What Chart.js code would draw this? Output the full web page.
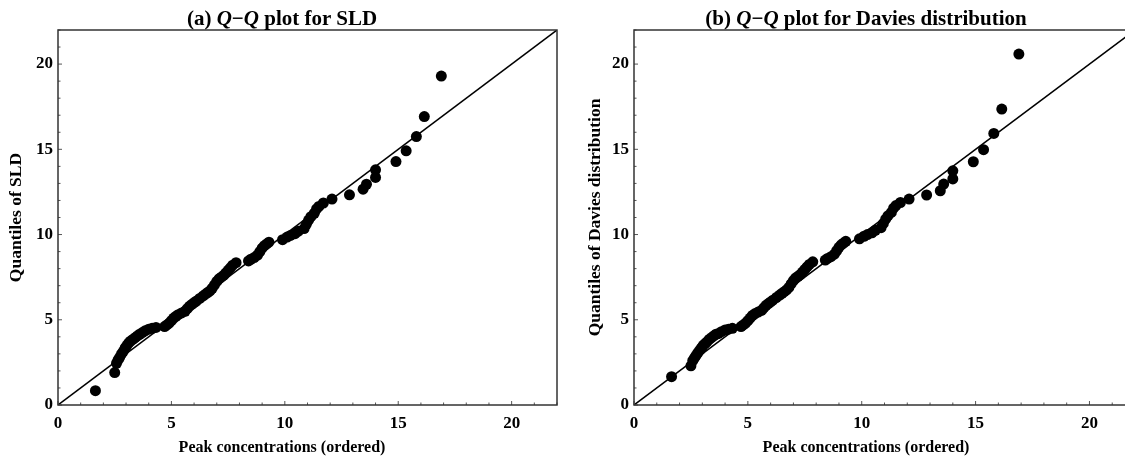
<!DOCTYPE html>
<html lang="en">
<head>
<meta charset="UTF-8">
<title>Q-Q plots</title>
<script src="https://cdn.jsdelivr.net/npm/chart.js@4"></script>
<style>
  html, body { margin: 0; padding: 0; background: #fff; }
  body { width: 1125px; height: 459px; overflow: hidden; position: relative;
         font-family: "Liberation Serif", "Times New Roman", serif; font-weight: bold; color: #000; }
  .panel { position: absolute; top: 0; height: 459px; }
  .title { position: absolute; font-size: 21px; line-height: 21px; white-space: nowrap; transform: translateX(-50%); }
  .xtitle { position: absolute; font-size: 16px; line-height: 16px; white-space: nowrap; transform: translateX(-50%); }
</style>
</head>
<body>
  <div class="panel" style="left:0;width:565px"><canvas id="qqSld" width="565" height="459"></canvas></div>
  <div class="panel" style="left:570px;width:575px"><canvas id="qqDavies" width="575" height="459"></canvas></div>

  <div class="title" style="left:282px;top:8px">(a) <i>Q</i>&minus;<i>Q</i> plot for SLD</div>
  <div class="title" style="left:866px;top:8px">(b) <i>Q</i>&minus;<i>Q</i> plot for Davies distribution</div>
  <div class="xtitle" style="left:282px;top:439px">Peak concentrations (ordered)</div>
  <div class="xtitle" style="left:866px;top:439px">Peak concentrations (ordered)</div>

<script>
// ordered peak concentrations (shared x values of both panels)
const peakConc = [
  1.65, 2.5, 2.58, 2.65, 2.72, 2.8, 2.88, 2.96, 3.04, 3.12,
  3.2, 3.3, 3.4, 3.5, 3.6, 3.72, 3.84, 4.0, 4.15, 4.32,
  4.7, 4.8, 4.9, 5.0, 5.1, 5.2, 5.3, 5.45, 5.6, 5.7,
  5.8, 5.9, 6.0, 6.1, 6.25, 6.4, 6.5, 6.6, 6.7, 6.8,
  6.9, 7.0, 7.1, 7.2, 7.3, 7.4, 7.5, 7.6, 7.7, 7.85,
  8.4, 8.5, 8.65, 8.8, 8.9, 9.0, 9.1, 9.2, 9.3, 9.9,
  10.1, 10.25, 10.45, 10.6, 10.85, 10.95, 11.05, 11.15, 11.3, 11.4,
  11.5, 11.7, 12.08, 12.85, 13.45, 13.6, 14.0, 14.0, 14.9, 15.35,
  15.8, 16.15, 16.9
];

// theoretical quantiles, SLD
const sldQuantiles = [
  0.84, 1.9, 2.45, 2.65, 2.8, 3.0, 3.15, 3.35, 3.5, 3.65,
  3.75, 3.85, 3.95, 4.05, 4.15, 4.25, 4.35, 4.45, 4.5, 4.55,
  4.6, 4.7, 4.8, 4.95, 5.1, 5.2, 5.3, 5.4, 5.5, 5.65,
  5.8, 5.9, 6.0, 6.1, 6.25, 6.4, 6.5, 6.6, 6.7, 6.85,
  7.05, 7.25, 7.4, 7.5, 7.6, 7.75, 7.9, 8.05, 8.2, 8.35,
  8.45, 8.55, 8.65, 8.8, 9.0, 9.2, 9.35, 9.45, 9.55, 9.7,
  9.85, 9.95, 10.05, 10.2, 10.35, 10.6, 10.85, 11.05, 11.25, 11.5,
  11.65, 11.85, 12.08, 12.33, 12.66, 12.95, 13.35, 13.8, 14.28, 14.91,
  15.75, 16.92, 19.3
];

// theoretical quantiles, Davies distribution
const daviesQuantiles = [
  1.66, 2.3, 2.6, 2.75, 2.9, 3.05, 3.2, 3.35, 3.5, 3.6,
  3.7, 3.85, 3.95, 4.05, 4.15, 4.2, 4.3, 4.4, 4.45, 4.5,
  4.6, 4.7, 4.8, 4.95, 5.1, 5.25, 5.35, 5.45, 5.55, 5.7,
  5.85, 5.95, 6.05, 6.15, 6.3, 6.45, 6.55, 6.65, 6.75, 6.9,
  7.1, 7.3, 7.45, 7.55, 7.65, 7.8, 7.95, 8.1, 8.25, 8.4,
  8.5, 8.6, 8.7, 8.85, 9.05, 9.25, 9.4, 9.5, 9.6, 9.75,
  9.9, 10.0, 10.1, 10.25, 10.4, 10.65, 10.9, 11.1, 11.3, 11.55,
  11.7, 11.88, 12.08, 12.32, 12.57, 12.96, 13.26, 13.74, 14.27, 14.98,
  15.93, 17.36, 20.59
];

// axis range and the y = x reference line
const axisMin = 0;
const axisMax = 22;
const refLine = [0, 22];

const FONT = "'Liberation Serif', 'Times New Roman', serif";

// frame round the plot area + short inward ticks
const framePlugin = {
  id: "frame",
  afterDatasetsDraw(chart) {
    const { ctx, chartArea: a, scales } = chart;
    ctx.save();
    ctx.strokeStyle = "#555";
    ctx.lineWidth = 1;
    scales.x.ticks.forEach((t) => {
      const px = scales.x.getPixelForValue(t.value);
      const len = t.value % 5 === 0 ? 4 : 2.5;
      ctx.beginPath();
      ctx.moveTo(px, a.bottom);
      ctx.lineTo(px, a.bottom - len);
      ctx.stroke();
    });
    scales.y.ticks.forEach((t) => {
      const py = scales.y.getPixelForValue(t.value);
      const len = t.value % 5 === 0 ? 4 : 2.5;
      ctx.beginPath();
      ctx.moveTo(a.left, py);
      ctx.lineTo(a.left + len, py);
      ctx.stroke();
    });
    ctx.strokeStyle = "#333";
    ctx.lineWidth = 1.5;
    ctx.strokeRect(a.left, a.top, a.right - a.left, a.bottom - a.top);
    ctx.restore();
  },
};

function makeChart(id, quantiles, yTitle, yAxisWidth, padRight, titlePad) {
  const points = peakConc.map((x, i) => ({ x: x, y: quantiles[i] }));
  const line = refLine.map((v) => ({ x: v, y: v }));
  const tickOpts = {
    stepSize: 1,
    autoSkip: false,
    maxRotation: 0,
    color: "#000",
    font: { family: FONT, size: 17, weight: "bold" },
    callback: (v) => (v % 5 === 0 ? String(v) : ""),
  };
  return new Chart(document.getElementById(id), {
    type: "scatter",
    data: {
      datasets: [
        {
          data: line,
          showLine: true,
          borderColor: "#000",
          borderWidth: 1.5,
          pointRadius: 0,
        },
        {
          data: points,
          backgroundColor: "#000",
          borderWidth: 0,
          pointRadius: 5.5,
          pointHoverRadius: 5.5,
        },
      ],
    },
    options: {
      responsive: false,
      animation: false,
      devicePixelRatio: 1,
      layout: { padding: { top: 30, right: padRight, left: 0, bottom: 0 } },
      plugins: { legend: { display: false }, tooltip: { enabled: false } },
      scales: {
        x: {
          type: "linear",
          min: axisMin,
          max: axisMax,
          grid: { display: false, drawTicks: false },
          border: { display: false },
          ticks: Object.assign({ padding: 8 }, tickOpts),
          afterFit: (s) => { s.height = 54; },
        },
        y: {
          type: "linear",
          min: axisMin,
          max: axisMax,
          grid: { display: false, drawTicks: false },
          border: { display: false },
          ticks: Object.assign({ padding: 5 }, tickOpts),
          title: {
            display: true,
            text: yTitle,
            color: "#000",
            font: { family: FONT, size: 17.5, weight: "bold" },
            padding: { top: titlePad, bottom: 0 },
          },
          afterFit: (s) => { s.width = yAxisWidth; },
        },
      },
    },
    plugins: [framePlugin],
  });
}

makeChart("qqSld", sldQuantiles, "Quantiles of SLD", 58, 8, 6);
makeChart("qqDavies", daviesQuantiles, "Quantiles of Davies distribution", 64, 10, 14.5);
</script>
</body>
</html>
